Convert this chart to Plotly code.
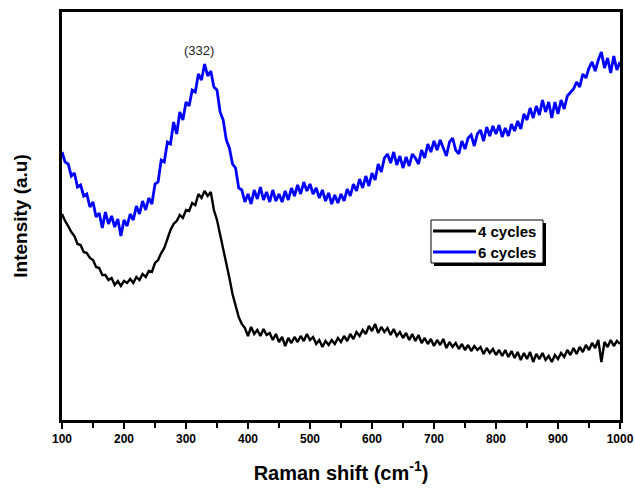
import plotly.graph_objects as go

# Raman shift axis, sampled every 5 cm^-1 from 100 to 1000
raman_shift = list(range(100, 1001, 5))

# 4 deposition cycles (arbitrary intensity units)
cycles_4 = [
    206, 199, 194, 188, 184, 176, 175, 168, 167, 162,
    160, 153, 152, 145, 145, 140, 142, 135, 139, 134,
    139, 137, 141, 137, 143, 140, 146, 143, 149, 148,
    157, 160, 167, 172, 181, 190, 196, 199, 205, 202,
    210, 209, 217, 215, 226, 222, 229, 224, 228, 210,
    200, 186, 172, 158, 142, 126, 113, 103, 96, 92,
    84, 93, 86, 90, 84, 91, 85, 87, 80, 86,
    78, 83, 74, 82, 77, 83, 78, 84, 79, 86,
    80, 83, 76, 80, 73, 79, 75, 80, 76, 82,
    78, 84, 79, 86, 81, 88, 84, 90, 86, 94,
    89, 96, 87, 93, 88, 92, 85, 91, 84, 88,
    82, 87, 80, 86, 79, 85, 77, 82, 76, 81,
    74, 80, 75, 81, 72, 78, 73, 77, 71, 76,
    70, 75, 69, 74, 70, 73, 66, 72, 67, 71,
    65, 70, 64, 70, 63, 69, 62, 68, 60, 67,
    61, 68, 58, 66, 61, 67, 60, 64, 58, 65,
    61, 67, 63, 70, 65, 72, 66, 73, 68, 75,
    70, 77, 72, 80, 58, 78, 73, 80, 74, 79,
    76,
]

# 6 deposition cycles (arbitrary intensity units)
cycles_6 = [
    268, 258, 256, 244, 247, 233, 235, 224, 226, 213,
    218, 203, 207, 192, 208, 196, 204, 193, 201, 184,
    200, 194, 206, 200, 214, 206, 219, 210, 222, 216,
    236, 238, 260, 258, 278, 276, 298, 286, 308, 300,
    318, 314, 330, 328, 346, 340, 356, 344, 349, 333,
    330, 308, 300, 280, 272, 256, 252, 232, 230, 218,
    226, 216, 230, 221, 233, 220, 228, 218, 230, 219,
    226, 218, 229, 220, 232, 224, 235, 226, 238, 229,
    236, 226, 232, 222, 230, 219, 227, 216, 225, 217,
    226, 219, 231, 224, 236, 229, 241, 232, 244, 234,
    247, 240, 256, 248, 262, 266, 257, 268, 255, 264,
    252, 263, 254, 266, 262, 256, 270, 262, 276, 268,
    279, 270, 280, 271, 264, 278, 282, 270, 266, 279,
    271, 282, 285, 274, 286, 290, 279, 293, 284, 294,
    286, 295, 283, 292, 284, 296, 289, 299, 291, 306,
    300, 312, 302, 314, 305, 320, 308, 318, 302, 318,
    306, 320, 311, 324, 328, 331, 338, 333, 346, 342,
    352, 358, 349, 360, 368, 352, 362, 347, 364, 350,
    358,
]

x_ticks = [100, 200, 300, 400, 500, 600, 700, 800, 900, 1000]
series_names = ["4 cycles", "6 cycles"]
series_colors = ["black", "#0000ff"]

# plot area in pixels: left 62, right 620, top 12, bottom 420
def px_x(p):
    return (p - 62) / 558


def px_y(p):
    return (420 - p) / 408


fig = go.Figure()
fig.add_trace(go.Scatter(x=raman_shift, y=cycles_4, mode="lines", name=series_names[0],
                         line=dict(color=series_colors[0], width=2.4)))
fig.add_trace(go.Scatter(x=raman_shift, y=cycles_6, mode="lines", name=series_names[1],
                         line=dict(color=series_colors[1], width=2.8)))

# peak label
fig.add_annotation(x=321, y=370, text="(332)", showarrow=False,
                   font=dict(family="Arial, Liberation Sans", size=13, color="#222222"))

# boxed legend with a drop shadow
fig.add_shape(type="rect", xref="paper", yref="paper",
              x0=px_x(434), x1=px_x(546), y0=px_y(266), y1=px_y(223),
              fillcolor="black", line=dict(width=0))
fig.add_shape(type="rect", xref="paper", yref="paper",
              x0=px_x(431), x1=px_x(543), y0=px_y(263), y1=px_y(220),
              fillcolor="white", line=dict(color="black", width=1))
for i, (name, color) in enumerate(zip(series_names, series_colors)):
    yy = px_y(231 + 21 * i)
    fig.add_shape(type="line", xref="paper", yref="paper",
                  x0=px_x(433), x1=px_x(476), y0=yy, y1=yy,
                  line=dict(color=color, width=3))
    fig.add_annotation(xref="paper", yref="paper", x=px_x(476), y=yy,
                       xanchor="left", yanchor="middle", text=name, showarrow=False,
                       font=dict(family="Arial, Liberation Sans", size=15, weight="bold",
                                 color="black"))

fig.update_layout(
    width=635, height=488,
    margin=dict(l=62, r=15, t=12, b=68),
    paper_bgcolor="white", plot_bgcolor="white",
    font=dict(family="Arial, Liberation Sans", color="black"),
    showlegend=False,
    xaxis=dict(
        range=[100, 1000], tickvals=x_ticks, ticktext=[str(v) for v in x_ticks],
        showline=True, linecolor="black", linewidth=2.5, mirror=True,
        ticks="outside", ticklen=6, tickwidth=2, tickcolor="black",
        minor=dict(dtick=50, tick0=100, ticks="outside", ticklen=5, tickwidth=2, tickcolor="black"),
        tickfont=dict(size=12, weight="bold"),
        showgrid=False, zeroline=False, automargin=False,
        title=dict(text="Raman shift (cm<sup>-1</sup>)", font=dict(size=20, weight="bold"), standoff=21),
    ),
    yaxis=dict(
        range=[0, 408], showticklabels=False, ticks="",
        showline=True, linecolor="black", linewidth=2.5, mirror=True,
        showgrid=False, zeroline=False, automargin=False,
        title=dict(text="Intensity (a.u)", font=dict(size=19, weight="bold"), standoff=27),
    ),
)

fig.write_html("out.html")
